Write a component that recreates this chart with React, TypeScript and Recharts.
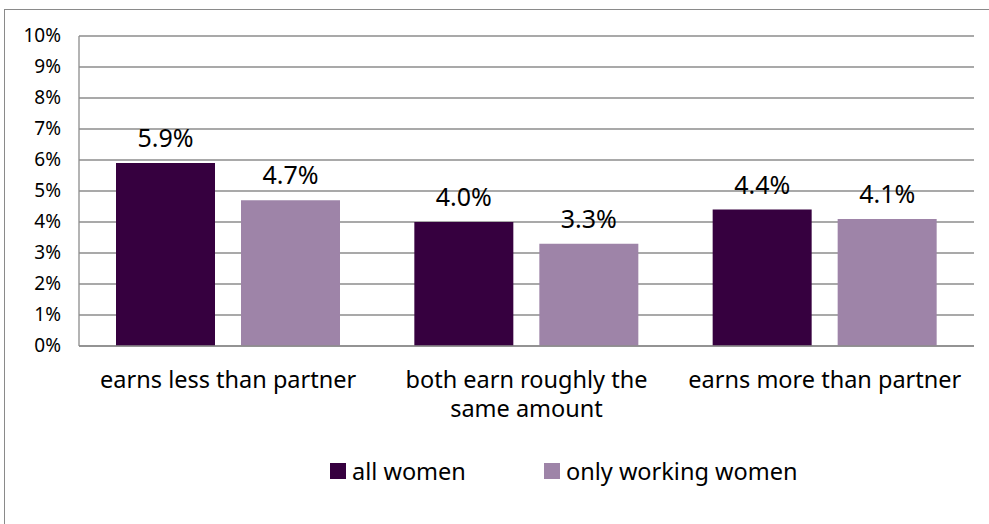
import React from "react";
import { BarChart, Bar, XAxis, YAxis, CartesianGrid, LabelList } from "recharts";

const categories = ["earns less than partner", "both earn roughly the same amount", "earns more than partner"];
const categoryLines = [["earns less than partner"], ["both earn roughly the", "same amount"], ["earns more than partner"]];
const allWomen = [5.9, 4.0, 4.4];
const workingWomen = [4.7, 3.3, 4.1];
const yTicks = [0, 1, 2, 3, 4, 5, 6, 7, 8, 9, 10];
const seriesNames = ["all women", "only working women"];
const colors = ["#36003F", "#9E84A8"];

const data = categories.map((c, i) => ({ cat: c, idx: i, a: allWomen[i], b: workingWomen[i] }));

const FONT = "'Noto Sans', sans-serif";

const YTick = (props: any) => {
  const { y, payload } = props;
  return (
    <text x={61} y={y} dy={6} textAnchor="end" fontSize={19} fill="#000" fontFamily={FONT}>
      {payload.value}%
    </text>
  );
};

const XTick = (props: any) => {
  const { x, payload, index } = props;
  const lines = categoryLines[index] || [payload.value];
  return (
    <g>
      {lines.map((l: string, i: number) => (
        <text key={i} x={x} y={388 + i * 29} textAnchor="middle" fontSize={23.5} fill="#000" fontFamily={FONT}>
          {l}
        </text>
      ))}
    </g>
  );
};

const LegendBox = () => (
  <>
    {seriesNames.map((n, i) => (
      <div key={n} style={{ position: "absolute", left: i === 0 ? 330 : 544, top: 455, height: 32, display: "flex", alignItems: "center", fontFamily: FONT, fontSize: 23.5, color: "#000", whiteSpace: "nowrap" }}>
        <span style={{ display: "inline-block", width: 16, height: 16, background: colors[i], marginRight: 6 }} />
        <span>{n}</span>
      </div>
    ))}
  </>
);

const labelStyle = { fontSize: 25, fill: "#000", fontFamily: FONT };
const fmt = (v: any) => `${Number(v).toFixed(1)}%`;

export default function App() {
  return (
    <div style={{ position: "absolute", left: 0, top: 0, width: 989, height: 524, overflow: "hidden", background: "#fff" }}>
      <div style={{ position: "absolute", left: 4, top: 9, width: 1100, height: 700, border: "1px solid #8a8a8a" }} />
      <div style={{ position: "absolute", left: 0, top: 0 }}>
        <BarChart
          width={989}
          height={524}
          data={data}
          margin={{ top: 36, right: 15, bottom: 0, left: 0 }}
          barCategoryGap={37}
          barGap={26}
        >
          <CartesianGrid vertical={false} stroke="#8c8c8c" strokeWidth={1.3} />
          <XAxis dataKey="cat" axisLine={{ stroke: "#8c8c8c", strokeWidth: 1.3 }} tickLine={false} tick={<XTick />} interval={0} height={178} />
          <YAxis
            domain={[0, 10]}
            ticks={yTicks}
            width={79}
            axisLine={{ stroke: "#8c8c8c", strokeWidth: 1.3 }}
            tickLine={false}
            tick={<YTick />}
            interval={0}
          />
          <Bar dataKey="a" name={seriesNames[0]} fill={colors[0]} isAnimationActive={false}>
            <LabelList dataKey="a" position="top" offset={16} formatter={fmt} style={labelStyle} />
          </Bar>
          <Bar dataKey="b" name={seriesNames[1]} fill={colors[1]} isAnimationActive={false}>
            <LabelList dataKey="b" position="top" offset={16} formatter={fmt} style={labelStyle} />
          </Bar>
        </BarChart>
      </div>
      <LegendBox />
    </div>
  );
}
